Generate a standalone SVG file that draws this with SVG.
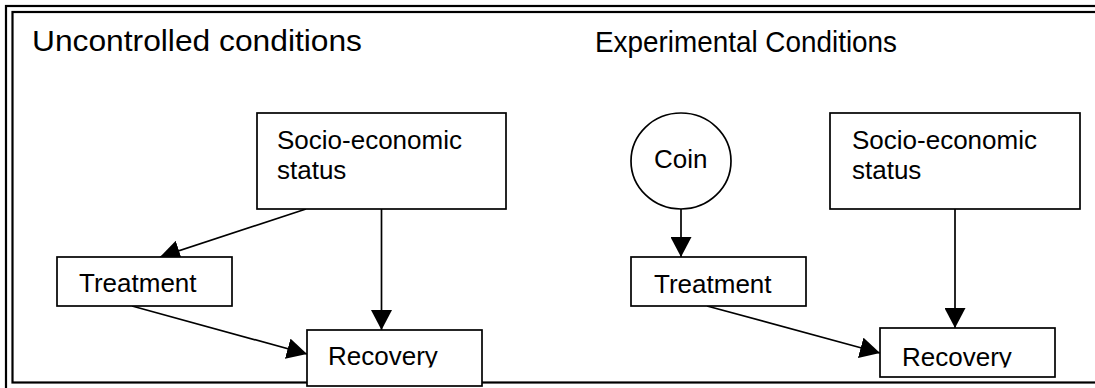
<svg xmlns="http://www.w3.org/2000/svg" width="1095" height="388" viewBox="0 0 1095 388">
<style>
.box{fill:#fff;stroke:#000;stroke-width:1.7}
.frame{fill:none;stroke:#000;stroke-width:2.2}
.lbl{font-family:"Liberation Sans",Arial,sans-serif;font-size:26px;fill:#000}
.title{font-family:"Liberation Sans",Arial,sans-serif;fill:#000}
.edge{fill:none;stroke:#000;stroke-width:1.7;marker-end:url(#arr)}
</style>
<defs>
<marker id="arr" markerUnits="userSpaceOnUse" markerWidth="21" markerHeight="21" refX="20" refY="10.5" orient="auto">
<path d="M0,0 L20,10.5 L0,21 z" fill="#000"/>
</marker>
<clipPath id="clipL"><rect x="307" y="330" width="175" height="37.5"/></clipPath>
<clipPath id="clipR"><rect x="880" y="328" width="175" height="39.5"/></clipPath>
</defs>
<rect width="1095" height="388" fill="#fff"/>
<g id="frame">
<rect class="frame" x="6" y="6" width="1200" height="500"/>
<rect class="frame" x="12.5" y="12" width="1200" height="370.5"/>
</g>
<g id="titles">
<text class="title" x="32" y="51" font-size="30" textLength="330" lengthAdjust="spacingAndGlyphs">Uncontrolled conditions</text>
<text class="title" x="595" y="52" font-size="29.5" textLength="302" lengthAdjust="spacingAndGlyphs">Experimental Conditions</text>
</g>
<g id="connectors">
<line class="edge" x1="306" y1="209" x2="160" y2="257"/>
<line class="edge" x1="381.5" y1="209" x2="381.5" y2="330"/>
<line class="edge" x1="132" y1="306" x2="307" y2="354"/>
<line class="edge" x1="681" y1="209" x2="681" y2="257"/>
<line class="edge" x1="955" y1="209" x2="955" y2="328"/>
<line class="edge" x1="707" y1="306" x2="880" y2="353"/>
</g>
<g id="ses-left">
<rect class="box" x="257" y="113" width="249" height="96"/>
<text class="lbl" x="277" y="149">Socio-economic</text>
<text class="lbl" x="277" y="179">status</text>
</g>
<g id="treatment-left">
<rect class="box" x="57" y="257" width="175" height="49"/>
<text class="lbl" x="79" y="292">Treatment</text>
</g>
<g id="recovery-left">
<rect class="box" x="307" y="330" width="175" height="56"/>
<text class="lbl" x="328" y="365" clip-path="url(#clipL)">Recovery</text>
</g>
<g id="coin">
<ellipse class="box" cx="681" cy="161" rx="50" ry="48"/>
<text class="lbl" x="654" y="168">Coin</text>
</g>
<g id="ses-right">
<rect class="box" x="830" y="113" width="250" height="96"/>
<text class="lbl" x="852" y="149">Socio-economic</text>
<text class="lbl" x="852" y="179">status</text>
</g>
<g id="treatment-right">
<rect class="box" x="631" y="257" width="175" height="49"/>
<text class="lbl" x="654" y="293">Treatment</text>
</g>
<g id="recovery-right">
<rect class="box" x="880" y="328" width="175" height="49"/>
<text class="lbl" x="902" y="366" clip-path="url(#clipR)">Recovery</text>
</g>
</svg>
